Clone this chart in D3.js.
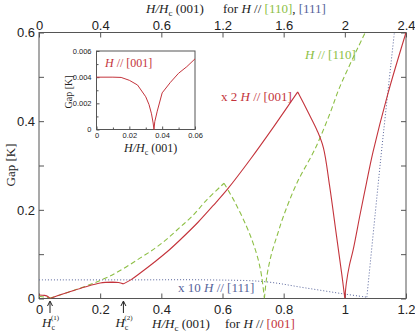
<!DOCTYPE html>
<html>
<head>
<meta charset="utf-8">
<script src="https://cdnjs.cloudflare.com/ajax/libs/d3/7.8.5/d3.min.js"></script>
<style>
  body { margin: 0; background: #fff; }
  svg { display: block; font-family: "Liberation Serif", "DejaVu Serif", serif; }
  .tick text { font-size: 13px; fill: #222; }
  .inset .tick text { font-size: 7.5px; }
  .tick line { stroke: #555; }
</style>
</head>
<body>
<script>
// bottom axis (H // [001]) ticks and the odd top labels as printed
var xTicks = [0, 0.2, 0.4, 0.6, 0.8, 1.0, 1.2];
var xTickLabels = ["0", "0.2", "0.4", "0.6", "0.8", "1", "1.2"];
var topTickLabels = ["0", "0.4", "0.6", "1.2", "1.6", "2", "2.4"];
var yTicks = [0, 0.2, 0.4, 0.6];
var yMinorTicks = [0.1, 0.3, 0.5];

// x2 H // [001]
var gap001 = [[0,0.008],[0.018,0.007],[0.03,0.004],[0.036,0.0],[0.06,0.006],[0.1,0.015],[0.15,0.026],
  [0.2,0.035],[0.24,0.037],[0.26,0.036],[0.276,0.033],[0.3,0.042],[0.33,0.057],[0.379,0.083],
  [0.42,0.106],[0.461,0.132],[0.52,0.172],[0.57,0.21],[0.619,0.249],[0.69,0.313],[0.77,0.39],
  [0.846,0.466],[0.88,0.42],[0.91,0.378],[0.93,0.34],[0.95,0.255],[0.973,0.14],[0.99,0.055],[1.0,0.0],
  [1.005,0.035],[1.015,0.075],[1.027,0.109],[1.05,0.19],[1.07,0.258],[1.092,0.33],[1.14,0.46],[1.2,0.6]];

// H // [110]
var gap110 = [[0,0.005],[0.036,0.001],[0.1,0.015],[0.205,0.042],[0.27,0.065],[0.33,0.091],[0.379,0.113],
  [0.418,0.134],[0.46,0.16],[0.5,0.185],[0.548,0.222],[0.605,0.26],[0.64,0.218],[0.679,0.162],
  [0.7,0.125],[0.717,0.087],[0.728,0.05],[0.737,0.0],[0.745,0.05],[0.76,0.1],[0.78,0.145],
  [0.799,0.185],[0.843,0.26],[0.903,0.338],[0.95,0.415],[0.984,0.478],[1.068,0.602]];

// x10 H // [111]
var gap111 = [[0,0.042],[0.3,0.042],[0.55,0.042],[0.737,0.038],[0.87,0.024],[1.0,0.01],[1.072,0.003],
  [1.1,0.196],[1.121,0.339],[1.162,0.6]];

// inset: H // [001] at low field
var insetTicksX = [0, 0.02, 0.04, 0.06];
var insetTickLabelsX = ["0", "0.02", "0.04", "0.06"];
var insetTicksY = [0, 0.002, 0.004, 0.006];
var insetTickLabelsY = ["0", "0.002", "0.004", "0.006"];
var insetGap = [[0,0.004],[0.01,0.004],[0.015,0.00398],[0.02,0.00376],[0.025,0.0034],[0.03,0.0025],
  [0.032,0.0019],[0.0335,0.0012],[0.0345,0.0005],[0.035,0.0],[0.0355,0.0006],[0.037,0.0014],
  [0.04,0.0028],[0.045,0.0036],[0.05,0.0043],[0.055,0.0048],[0.06,0.0054]];

var w = 415;
var h = 334;
var red = "#c4343c", green = "#8dbf45", blue = "#56639a";

var svg = d3.select("body").append("svg")
  .attr("width", w)
  .attr("height", h);

var x = d3.scaleLinear().domain([0, 1.2]).range([39, 406]);
var y = d3.scaleLinear().domain([0, 0.6]).range([298.5, 32.5]);

// clip for the curves
svg.append("clipPath").attr("id", "plot")
  .append("rect")
  .attr("x", x(0)).attr("y", y(0.6))
  .attr("width", x(1.2) - x(0)).attr("height", y(0) - y(0.6));

// axes, ticks pointing inward
svg.append("g").attr("transform", "translate(0," + y(0) + ")")
  .call(d3.axisBottom(x).tickValues(xTicks).tickSize(-5).tickPadding(6)
    .tickFormat(function(d, i) { return xTickLabels[i]; }));
svg.append("g").attr("transform", "translate(0," + y(0.6) + ")")
  .call(d3.axisTop(x).tickValues(xTicks).tickSize(-5).tickPadding(3)
    .tickFormat(function(d, i) { return topTickLabels[i]; }));
svg.append("g").attr("transform", "translate(" + x(0) + ",0)")
  .call(d3.axisLeft(y).tickValues(yTicks).tickSize(-5).tickPadding(4)
    .tickFormat(function(d) { return d3.format("")(d); }));
svg.append("g").attr("transform", "translate(" + x(0) + ",0)")
  .call(d3.axisLeft(y).tickValues(yMinorTicks).tickSize(-5).tickFormat(""));
svg.append("g").attr("transform", "translate(" + x(1.2) + ",0)")
  .call(d3.axisRight(y).tickValues(yTicks.concat(yMinorTicks)).tickSize(-5).tickFormat(""));
svg.selectAll(".domain").remove();

svg.append("rect")
  .attr("x", x(0)).attr("y", y(0.6))
  .attr("width", x(1.2) - x(0)).attr("height", y(0) - y(0.6))
  .attr("fill", "none").attr("stroke", "#555").attr("stroke-width", 1);

var line = d3.line()
  .x(function(d) { return x(d[0]); })
  .y(function(d) { return y(d[1]); })
  .curve(d3.curveCatmullRom.alpha(0.5));

// break a series at its turning points so cusps and peaks stay sharp
function pieces(data) {
  var out = [], cur = [data[0]];
  for (var i = 1; i < data.length; i++) {
    cur.push(data[i]);
    if (i < data.length - 1) {
      var a = data[i][1] - data[i - 1][1], b = data[i + 1][1] - data[i][1];
      if ((a > 0 && b < 0) || (a < 0 && b > 0)) {
        out.push(cur);
        cur = [data[i]];
      }
    }
  }
  out.push(cur);
  return out.map(line).join("");
}

var curves = svg.append("g").attr("clip-path", "url(#plot)");
curves.append("path")
  .attr("d", pieces(gap111)).attr("fill", "none")
  .attr("stroke", blue).attr("stroke-width", 1).attr("stroke-dasharray", "1,2");
curves.append("path")
  .attr("d", pieces(gap110)).attr("fill", "none")
  .attr("stroke", green).attr("stroke-width", 1.1).attr("stroke-dasharray", "5,3");
curves.append("path")
  .attr("d", pieces(gap001)).attr("fill", "none")
  .attr("stroke", red).attr("stroke-width", 1.1);

// text made of styled pieces
function rich(g, px, py, parts, size, anchor) {
  var t = g.append("text")
    .attr("x", px).attr("y", py)
    .attr("font-size", size)
    .attr("text-anchor", anchor || "start")
    .attr("fill", "#222");
  parts.forEach(function(p) {
    var s = t.append("tspan").text(p[0]);
    if (p[1]) s.attr("fill", p[1]);
    if (p[2]) s.attr("font-style", "italic");
    if (p[3]) s.attr("font-size", p[3]).attr("dy", p[4]);
  });
  return t;
}

// axis titles
svg.append("text")
  .attr("transform", "translate(15,165) rotate(-90)")
  .attr("text-anchor", "middle")
  .attr("font-size", 13).attr("fill", "#222")
  .text("Gap [K]");

rich(svg, 146, 13, [["H", null, true], ["/", null, true], ["H", null, true], ["c", null, false, 9, 3],
  [" (001)", null, false, 13, -3]], 13);
rich(svg, 223, 13, [["for "], ["H", null, true], [" // "], ["[110]", green], [", "], ["[111]", blue]], 13);

rich(svg, 152, 328, [["H", null, true], ["/", null, true], ["H", null, true], ["c", null, false, 9, 3],
  [" (001)", null, false, 13, -3]], 13);
rich(svg, 225, 328, [["for "], ["H", null, true], [" // "], ["[001]", red]], 13);

// critical field markers
var hc = [[0.036, "(1)"], [0.276, "(2)"]];
hc.forEach(function(d) {
  var cx = x(d[0]);
  svg.append("line").attr("x1", cx).attr("x2", cx).attr("y1", 313).attr("y2", 302)
    .attr("stroke", "#222").attr("stroke-width", 1);
  svg.append("path")
    .attr("d", "M" + (cx - 2.5) + ",306 L" + cx + ",301 L" + (cx + 2.5) + ",306")
    .attr("fill", "none").attr("stroke", "#222").attr("stroke-width", 1);
  var t = svg.append("text").attr("x", cx - 8).attr("y", 327).attr("font-size", 13).attr("fill", "#222");
  t.append("tspan").attr("font-style", "italic").text("H");
  t.append("tspan").attr("font-size", 8).attr("dy", 3).text("c");
  t.append("tspan").attr("font-size", 7).attr("dx", -4).attr("dy", -10).text(d[1]);
});

// curve labels
rich(svg, 221, 101, [["x 2 ", red], ["H", red, true], [" // [001]", red]], 13);
rich(svg, 305, 59, [["H", green, true], [" // [110]", green]], 13);
rich(svg, 178, 292, [["x 10 ", blue], ["H", blue, true], [" // [111]", blue]], 13);

// inset
var ix = d3.scaleLinear().domain([0, 0.06]).range([96.5, 195]);
var iy = d3.scaleLinear().domain([0, 0.006]).range([129.5, 51]);
var inset = svg.append("g").attr("class", "inset");
inset.append("rect")
  .attr("x", ix(0)).attr("y", iy(0.006))
  .attr("width", ix(0.06) - ix(0)).attr("height", iy(0) - iy(0.006))
  .attr("fill", "#fff").attr("stroke", "#555").attr("stroke-width", 1);
inset.append("g").attr("transform", "translate(0," + iy(0) + ")")
  .call(d3.axisBottom(ix).tickValues(insetTicksX).tickSize(-3).tickPadding(3)
    .tickFormat(function(d, i) { return insetTickLabelsX[i]; }));
inset.append("g").attr("transform", "translate(0," + iy(0) + ")")
  .call(d3.axisBottom(ix).tickValues([0.01, 0.03, 0.05]).tickSize(-2).tickFormat(""));
inset.append("g").attr("transform", "translate(" + ix(0) + ",0)")
  .call(d3.axisLeft(iy).tickValues(insetTicksY).tickSize(-3).tickPadding(5)
    .tickFormat(function(d, i) { return insetTickLabelsY[i]; }));
inset.append("g").attr("transform", "translate(" + ix(0) + ",0)")
  .call(d3.axisLeft(iy).tickValues([0.001, 0.003, 0.005]).tickSize(-2).tickFormat(""));
inset.selectAll(".domain").remove();

var iline = d3.line()
  .x(function(d) { return ix(d[0]); })
  .y(function(d) { return iy(d[1]); })
  .curve(d3.curveLinear);
inset.append("path").datum(insetGap)
  .attr("d", iline).attr("fill", "none")
  .attr("stroke", red).attr("stroke-width", 1);

inset.append("text")
  .attr("transform", "translate(72,92) rotate(-90)")
  .attr("text-anchor", "middle")
  .attr("font-size", 10).attr("fill", "#222")
  .text("Gap [K]");
rich(inset, 124, 152, [["H", null, true], ["/", null, true], ["H", null, true], ["c", null, false, 8, 3],
  [" (001)", null, false, 12, -3]], 12);
rich(inset, 105, 67, [["H", red, true], [" // [001]", red]], 12);
</script>
</body>
</html>
